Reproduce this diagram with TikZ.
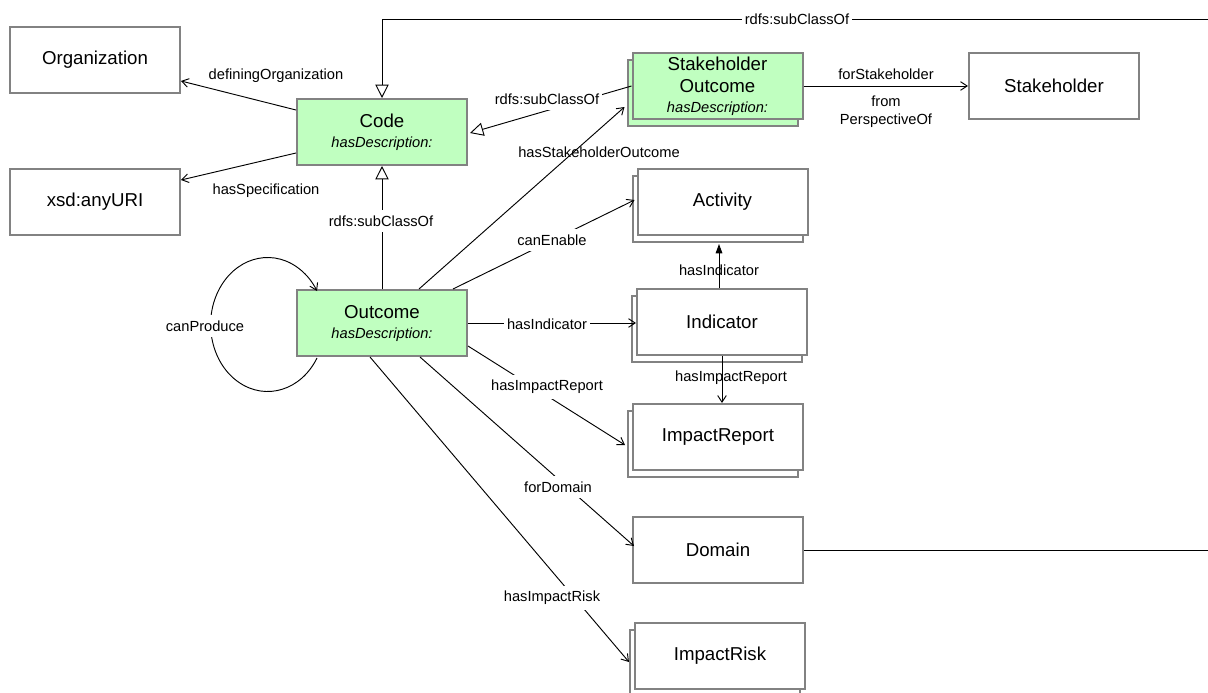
\documentclass[tikz,border=0pt]{standalone}
\usepackage{fontspec}
\setmainfont{Liberation Sans}
\usetikzlibrary{arrows.meta,calc}
\definecolor{boxgray}{RGB}{130,130,130}
\definecolor{cgreen}{RGB}{192,255,192}
\begin{document}
\begin{tikzpicture}[x=0.75pt,y=-0.75pt,
  box/.style={draw=boxgray, line width=1.5pt, fill=white, minimum width=127.5pt, minimum height=49.5pt,
    inner sep=0pt, align=center, font=\fontsize{14}{16.5}\selectfont},
  greenbox/.style={box, fill=cgreen},
  stackw/.style={preaction={draw=boxgray, line width=1.5pt, fill=white, transform canvas={shift={(-3.75pt,-5.25pt)}}}},
  stackg/.style={preaction={draw=boxgray, line width=1.5pt, fill=cgreen, transform canvas={shift={(-3.75pt,-5.25pt)}}}},
  conn/.style={draw=black, line width=0.7pt},
  oarr/.style={-{Straight Barb[length=5pt,width=6.5pt,line width=0.7pt]}},
  sub/.style={-{Triangle[open,length=10pt,width=10pt,line width=0.7pt]}},
  farr/.style={-{Triangle[length=7pt,width=5pt]}},
  lbl/.style={font=\fontsize{11}{13.5}\selectfont, inner sep=1pt, align=center},
  lblw/.style={lbl, fill=white, inner xsep=2pt, inner ysep=4pt},
  desc/.style={font=\fontsize{11}{13}\selectfont\itshape}
]
\useasboundingbox (0,0) rectangle (1208,693);
\clip (0,0) rectangle (1208,693);

% nodes
\node[box] (org) at (95,59.5) {Organization};
\node[box] (uri) at (95,202) {xsd:anyURI};
\node[greenbox] (code) at (382,132) {Code\\[-1.5pt]{\fontsize{11}{13}\selectfont\itshape hasDescription:}};
\node[greenbox, stackg] (so) at (717.5,86) {Stakeholder\\Outcome\\[-1.5pt]{\fontsize{11}{13}\selectfont\itshape hasDescription:}};
\node[box] (sh) at (1054,86) {Stakeholder};
\node[box, stackw] (act) at (722.5,202) {Activity};
\node[greenbox] (out) at (382,323) {Outcome\\[-1.5pt]{\fontsize{11}{13}\selectfont\itshape hasDescription:}};
\node[box, stackw] (ind) at (722,322) {Indicator};
\node[box, stackw] (ir) at (718,437) {ImpactReport};
\node[box] (dom) at (718,550) {Domain};
\node[box, stackw] (risk) at (720,656) {ImpactRisk};

% connectors
\coordinate (farright) at (1225,19);
\draw[conn,sub] (dom.east) -| (farright) -| (code.north);
\draw[conn,oarr] ($(code.west)+(0,-22)$) -- ($(org.east)+(0,21.5)$);
\draw[conn,oarr] ($(code.west)+(0,21)$) -- ($(uri.east)+(0,-22)$);
\draw[conn,sub] (out.north) -- (code.south);
\draw[conn,sub] (so.west) -- ($(code.east)+(2,1)$);
\draw[conn,oarr] ($(out.north)+(37,0)$) -- ($(so.west)+(-7,21)$);
\draw[conn,oarr] ($(out.north east)+(-15,0)$) -- ($(act.west)+(-2,-2)$);
\draw[conn,oarr] (out.east) -- (out.east -| ind.west);
\draw[conn,oarr] ($(out.east)+(0,23)$) -- ($(ir.west)+(-7,8)$);
\draw[conn,oarr] ($(out.south)+(38,0)$) -- ($(dom.west)+(2,-4)$);
\draw[conn,oarr] ($(out.south)+(-12,0)$) -- ($(risk.west)+(-5,6)$);
\draw[conn,farr] ($(ind.north)+(-3,0)$) -- ($(act.south)+(-3.5,8)$);
\draw[conn,oarr] (ind.south) -- (ind.south |- ir.north);
\draw[conn,oarr] (so.east) -- (sh.west);
\draw[conn,oarr] ($(out.south west)+(21,1)$) arc[start angle=30, end angle=330, x radius=57, y radius=67];

% labels
\node[lblw] (l-top) at (797,19) {rdfs:subClassOf};
\node[lbl] (l-def) at (276,76) {definingOrganization};
\node[lbl] (l-spec) at (266,191) {hasSpecification};
\node[lblw] (l-sub1) at (381,221) {rdfs:subClassOf};
\node[lblw] (l-sub2) at (547,99) {rdfs:subClassOf};
\node[lbl] (l-hso) at (599,152) {hasStakeholderOutcome};
\node[lblw] (l-ce) at (552,240) {canEnable};
\node[lblw] (l-hi) at (547,324) {hasIndicator};
\node[lblw] (l-hir) at (547,387) {hasImpactReport};
\node[lblw] (l-fd) at (558,487) {forDomain};
\node[lblw] (l-risk) at (552,598) {hasImpactRisk};
\node[lblw] (l-cp) at (205,326) {canProduce};
\node[lbl] (l-hi2) at (719,270) {hasIndicator};
\node[lbl] (l-hir2) at (731,378) {hasImpactReport};
\node[lbl] (l-fs) at (886,74) {forStakeholder};
\node[lbl] (l-fp) at (886,112) {from\\PerspectiveOf};
\end{tikzpicture}
\end{document}
